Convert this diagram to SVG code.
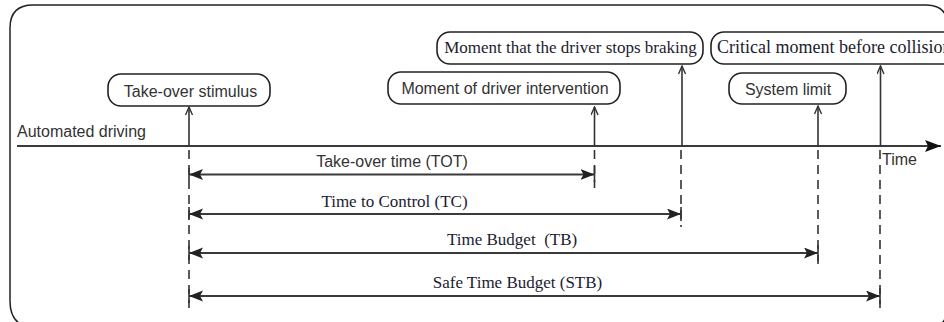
<svg xmlns="http://www.w3.org/2000/svg" width="944" height="322" viewBox="0 0 944 322">
<defs>
<style>
.frame{fill:none;stroke:#222;stroke-width:1.5}
.box{fill:#fff;stroke:#222;stroke-width:1.6}
.sans{font-family:"Liberation Sans",Arial,sans-serif;font-size:16px;fill:#333}
.serif{font-family:"Liberation Serif","Times New Roman",serif;font-size:17px;fill:#1c1c30}
.axis{stroke:#3a3a3a;stroke-width:2;fill:none}
.up{stroke:#333;stroke-width:1.6;fill:none;marker-end:url(#open)}
.dash{stroke:#333;stroke-width:1.6;stroke-dasharray:9 6;fill:none}
.tick{stroke:#333;stroke-width:1.6;fill:none}
.span{stroke:#3a3a3a;stroke-width:2.2;fill:none;marker-start:url(#solid);marker-end:url(#solid)}
</style>
<marker id="solid" markerUnits="userSpaceOnUse" markerWidth="16" markerHeight="12" refX="14" refY="5.5" orient="auto-start-reverse">
<path d="M0,0 L14,5.5 L0,11 L3,5.5 Z" fill="#222"/>
</marker>
<marker id="open" markerUnits="userSpaceOnUse" markerWidth="10" markerHeight="10" refX="8.5" refY="4" orient="auto">
<path d="M0.5,0.5 L8.5,4 L0.5,7.5" fill="none" stroke="#333" stroke-width="1.4"/>
</marker>
<marker id="axisHead" markerUnits="userSpaceOnUse" markerWidth="18" markerHeight="14" refX="16" refY="6" orient="auto">
<path d="M0,0 L16,6 L0,12 L3,6 Z" fill="#111"/>
</marker>
</defs>
<rect width="944" height="322" fill="#fff"/>
<path class="frame" d="M10,28 Q10,5 33,5 L926,5 Q948,5 948,27 L948,306 Q948,328 926,328 L37,328 Q10,328 10,301 Z"/>

<g id="connectors">
<line class="axis" x1="17" y1="146" x2="941" y2="146" style="marker-end:url(#axisHead)"/>
<line class="up" x1="189" y1="146" x2="189" y2="107"/>
<line class="up" x1="594.5" y1="146" x2="594.5" y2="107"/>
<line class="up" x1="682" y1="146" x2="682" y2="66"/>
<line class="up" x1="818" y1="146" x2="818" y2="106"/>
<line class="up" x1="880.5" y1="146" x2="880.5" y2="66"/>
<line class="dash" x1="189" y1="150" x2="189" y2="308"/>
<line class="dash" x1="594.5" y1="150" x2="594.5" y2="188"/>
<line class="dash" x1="681" y1="150" x2="681" y2="227"/>
<line class="dash" x1="818" y1="150" x2="818" y2="266"/>
<line class="dash" x1="880" y1="150" x2="880" y2="308"/>
<path class="tick" d="M189,168 V180 M189,207 V220 M189,246 V260 M189,289 V303 M594.5,166 V182 M681,207 V221 M818,245 V261 M880,288 V304"/>
<line class="span" x1="189" y1="174.5" x2="594.5" y2="174.5"/>
<line class="span" x1="189" y1="214" x2="681" y2="214"/>
<line class="span" x1="189" y1="253" x2="818" y2="253"/>
<line class="span" x1="189" y1="296" x2="880" y2="296"/>
</g>

<g id="axis-labels">
<text class="sans" x="17" y="137">Automated driving</text>
<text class="sans" x="882" y="165">Time</text>
</g>

<g id="take-over-stimulus">
<rect class="box" x="108" y="74" width="162" height="32" rx="13"/>
<text class="sans" x="190.5" y="97" text-anchor="middle">Take-over stimulus</text>
</g>
<g id="driver-intervention">
<rect class="box" x="388" y="72" width="232" height="32" rx="13"/>
<text class="sans" x="505" y="94" text-anchor="middle">Moment of driver intervention</text>
</g>
<g id="stops-braking">
<rect class="box" x="437" y="32" width="266" height="32" rx="13"/>
<text class="serif" x="570.5" y="52.5" text-anchor="middle">Moment that the driver stops braking</text>
</g>
<g id="critical-moment">
<rect class="box" x="711" y="32" width="260" height="32" rx="13"/>
<text class="serif" x="717" y="52.5" style="font-size:18px">Critical moment before collision</text>
</g>
<g id="system-limit">
<rect class="box" x="729" y="73" width="117" height="31" rx="13"/>
<text class="sans" x="788" y="95" text-anchor="middle">System limit</text>
</g>

<g id="span-labels">
<text class="sans" x="392" y="167" text-anchor="middle">Take-over time (TOT)</text>
<text class="serif" x="394.5" y="207" text-anchor="middle">Time to Control (TC)</text>
<text class="serif" x="447" y="245" xml:space="preserve">Time Budget  (TB)</text>
<text class="serif" x="517.5" y="288" text-anchor="middle">Safe Time Budget (STB)</text>
</g>
</svg>
